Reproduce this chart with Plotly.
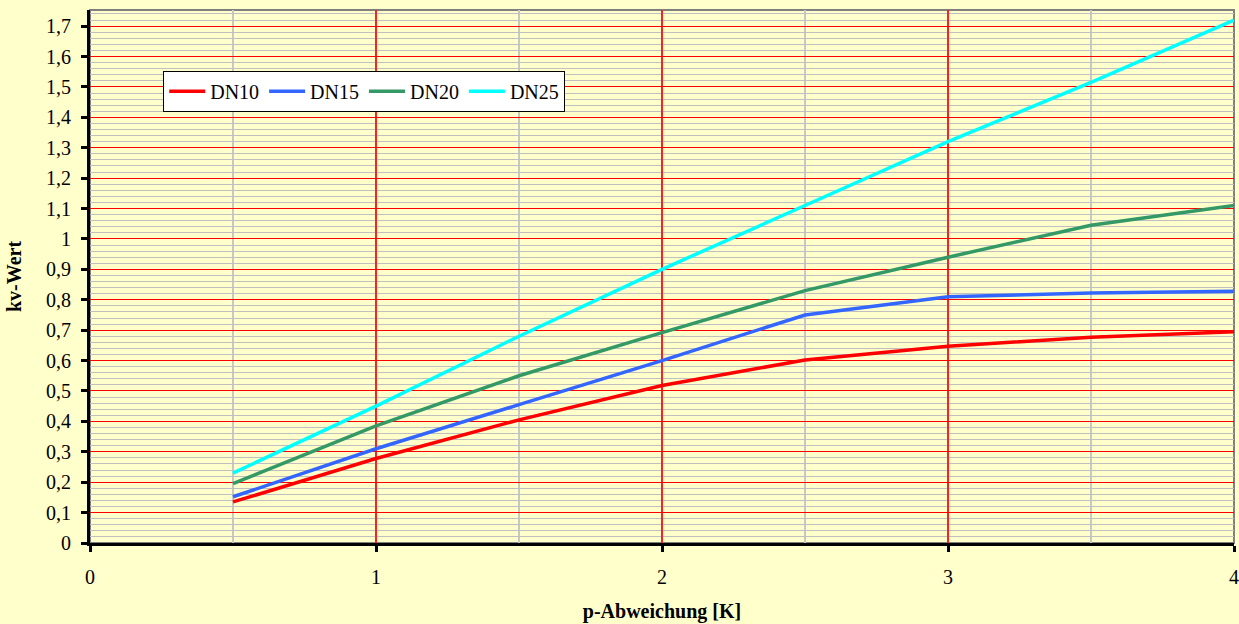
import plotly.graph_objects as go

x_vals = [0.5, 1, 1.5, 2, 2.5, 3, 3.5, 4]
dn10 = [0.135, 0.278, 0.405, 0.518, 0.602, 0.647, 0.677, 0.695]
dn15 = [0.152, 0.31, 0.455, 0.60, 0.75, 0.81, 0.822, 0.828]
dn20 = [0.195, 0.385, 0.55, 0.692, 0.83, 0.94, 1.045, 1.11]
dn25 = [0.23, 0.45, 0.68, 0.90, 1.11, 1.32, 1.515, 1.72]
names = ["DN10", "DN15", "DN20", "DN25"]
colors = ["#FF0000", "#3366FF", "#339966", "#00FFFF"]
series = [dn10, dn15, dn20, dn25]

y_ticks = [round(i * 0.1, 1) for i in range(18)]
y_labels = [("%g" % v).replace(".", ",") for v in y_ticks]
x_ticks = [0, 1, 2, 3, 4]
x_labels = ["0", "1", "2", "3", "4"]
x_minor = [0.5, 1.5, 2.5, 3.5]

font = "Liberation Serif, Times New Roman, serif"
bg = "#FFFFCC"
fs = 20

fig = go.Figure()
for n, c, s in zip(names, colors, series):
    fig.add_trace(go.Scatter(x=x_vals, y=s, mode="lines", name=n,
                             line=dict(color=c, width=3.5)))

fig.update_layout(
    width=1239, height=624,
    margin=dict(l=90, r=5, t=10, b=81, autoexpand=False),
    paper_bgcolor=bg, plot_bgcolor=bg,
    font=dict(family=font, size=fs, color="black"),
    showlegend=True,
    legend=dict(orientation="h", x=0.064, y=0.886, xanchor="left", yanchor="top",
                bgcolor="white", bordercolor="black", borderwidth=1,
                font=dict(family=font, size=fs), itemwidth=36,
                tracegroupgap=0),
    xaxis=dict(range=[0, 4], tickvals=x_ticks, ticktext=x_labels, automargin=False,
               showgrid=True, gridcolor="#FF2020", gridwidth=1.5,
               minor=dict(tickvals=x_minor, showgrid=True, gridcolor="#C8C8C8", gridwidth=1.5),
               showline=True, linecolor="black", linewidth=3,
               ticks="outside", ticklen=6, tickwidth=3, tickcolor="black",
               ticklabelstandoff=8, zeroline=False,
               tickfont=dict(family=font, size=fs),
               title=dict(text="<b>p-Abweichung [K]</b>", standoff=17,
                          font=dict(family=font, size=fs))),
    yaxis=dict(range=[0, 1.753], tickvals=y_ticks, ticktext=y_labels, automargin=False,
               showgrid=True, gridcolor="#FF0000", gridwidth=1,
               minor=dict(dtick=0.02, tick0=0, showgrid=True, gridcolor="#C0C0C0", gridwidth=1),
               showline=True, linecolor="black", linewidth=3,
               ticks="outside", ticklen=6, tickwidth=3, tickcolor="black",
               ticklabelstandoff=6, zeroline=False,
               tickfont=dict(family=font, size=fs),
               title=dict(text="<b>kv-Wert</b>", standoff=20,
                          font=dict(family=font, size=fs))),
)
fig.add_shape(type="rect", xref="paper", yref="paper", x0=0, y0=0, x1=1, y1=1,
              line=dict(color="#808080", width=2), layer="between")
fig.write_html("out.html")
